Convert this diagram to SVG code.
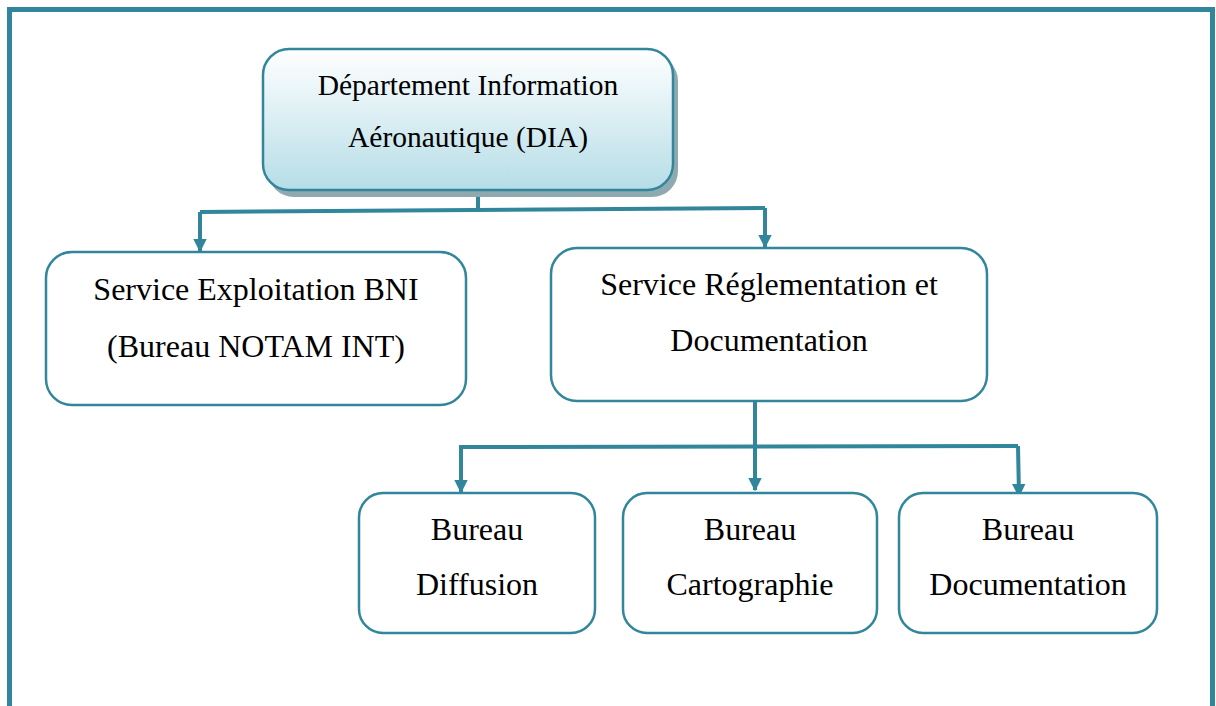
<svg xmlns="http://www.w3.org/2000/svg" width="1216" height="706" viewBox="0 0 1216 706">
  <defs>
    <linearGradient id="headFill" x1="0" y1="0" x2="0" y2="1">
      <stop offset="0" stop-color="#ffffff"/>
      <stop offset="1" stop-color="#b6dde7"/>
    </linearGradient>
    <marker id="arrow" viewBox="0 0 10 10" refX="9" refY="5" markerWidth="3.4" markerHeight="3.4" orient="auto" markerUnits="strokeWidth">
      <path d="M0,0 L10,5 L0,10 Z" fill="#31869b"/>
    </marker>
  </defs>
  <style>
    .box { fill: #ffffff; stroke: #31869b; stroke-width: 2.5; }
    .head { fill: url(#headFill); stroke: #31869b; stroke-width: 2.5; }
    .shadow { fill: #8fa9b1; }
    .wire { fill: none; stroke: #31869b; stroke-width: 4; }
    .lbl { font-family: "Liberation Serif", "Times New Roman", serif; font-size: 32px; fill: #000000; text-anchor: middle; }
    .lbl-sm { font-size: 29.5px; }
  </style>
  <rect width="1216" height="706" fill="#ffffff"/>

  <!-- page frame, open at the bottom -->
  <path d="M9.5,706 L9.5,9.5 L1212.5,9.5 L1212.5,706" fill="none" stroke="#31869b" stroke-width="5"/>

  <!-- connectors -->
  <g id="connectors">
    <path class="wire" d="M478,190 L478,211"/>
    <path class="wire" d="M200,212 L765,208"/>
    <path class="wire" d="M200,212 L200,251" marker-end="url(#arrow)"/>
    <path class="wire" d="M765,208 L765,247" marker-end="url(#arrow)"/>
    <path class="wire" d="M755,399 L755,490" marker-end="url(#arrow)"/>
    <path class="wire" d="M459,447 L1018,446"/>
    <path class="wire" d="M461,446 L461,492" marker-end="url(#arrow)"/>
    <path class="wire" d="M1018,446 L1019,496" marker-end="url(#arrow)"/>
  </g>

  <g id="node-dia">
    <rect class="shadow" x="268" y="55" width="410" height="142" rx="26"/>
    <rect class="head" x="263" y="49" width="410" height="141" rx="26"/>
    <text class="lbl lbl-sm" x="468" y="95">Département Information</text>
    <text class="lbl lbl-sm" x="468" y="147">Aéronautique (DIA)</text>
  </g>

  <g id="node-bni">
    <rect class="box" x="46" y="252" width="420" height="153" rx="26"/>
    <text class="lbl" x="256" y="300">Service Exploitation BNI</text>
    <text class="lbl" x="256" y="357">(Bureau NOTAM INT)</text>
  </g>

  <g id="node-srd">
    <rect class="box" x="551" y="248" width="436" height="153" rx="26"/>
    <text class="lbl" x="769" y="295">Service Réglementation et</text>
    <text class="lbl" x="769" y="351">Documentation</text>
  </g>

  <g id="node-diffusion">
    <rect class="box" x="359" y="493" width="236" height="140" rx="24"/>
    <text class="lbl" x="477" y="540">Bureau</text>
    <text class="lbl" x="477" y="595">Diffusion</text>
  </g>

  <g id="node-cartographie">
    <rect class="box" x="623" y="493" width="254" height="140" rx="24"/>
    <text class="lbl" x="750" y="540">Bureau</text>
    <text class="lbl" x="750" y="595">Cartographie</text>
  </g>

  <g id="node-documentation">
    <rect class="box" x="899" y="493" width="258" height="140" rx="24"/>
    <text class="lbl" x="1028" y="540">Bureau</text>
    <text class="lbl" x="1028" y="595">Documentation</text>
  </g>
</svg>
